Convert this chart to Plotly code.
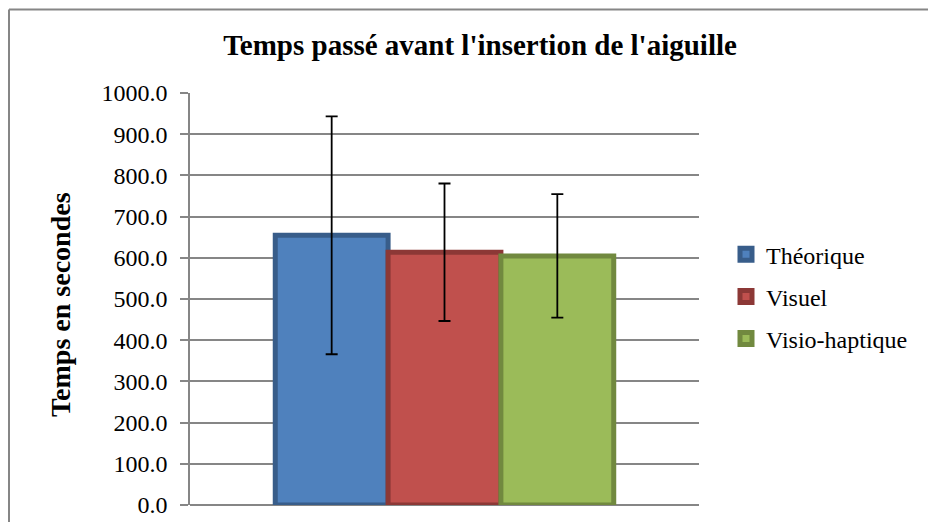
import plotly.graph_objects as go

categories = ["Théorique", "Visuel", "Visio-haptique"]
means = [654.7, 613.5, 604.6]
errors = [288.8, 166.9, 149.9]
fill_colors = ["#4F81BD", "#C0504D", "#9BBB59"]
line_colors = ["#385D8A", "#8C3836", "#71893F"]
y_ticks = [0, 100, 200, 300, 400, 500, 600, 700, 800, 900, 1000]

FONT = "Liberation Serif"
GRAY = "#868686"

# page body has an 8px margin: figure is placed at (8, 8) on screen
OFF = 8
W, H = 920, 514
PX0, PX1 = 190, 699      # plot area screen x
PY0, PY1 = 92.7, 505.3   # plot area screen y (top, bottom)


def px(x):
    return (x - PX0) / (PX1 - PX0)


def py(y):
    return (PY1 - y) / (PY1 - PY0)


fig = go.Figure()
for i, name in enumerate(categories):
    fig.add_trace(go.Bar(
        x=["Temps"], y=[means[i]], name=name, legendgroup=name,
        marker=dict(color=fill_colors[i], line=dict(color=line_colors[i], width=5)),
        error_y=dict(type="data", array=[errors[i]], visible=True,
                     color="black", thickness=1.8, width=6),
    ))

fig.update_layout(
    width=W, height=H,
    margin=dict(l=PX0 - OFF, r=W - (PX1 - OFF), t=PY0 - OFF, b=H - (PY1 - OFF),
                autoexpand=False),
    paper_bgcolor="white", plot_bgcolor="white",
    barmode="group", bargap=0.335, bargroupgap=0,
    font=dict(family=FONT, size=24, color="black"),
    title=dict(text="<b>Temps passé avant l'insertion de l'aiguille</b>",
               x=(480 - OFF) / W, xref="container", xanchor="center",
               y=1 - (45 - OFF) / H, yref="container", yanchor="middle",
               font=dict(family=FONT, size=29, color="black")),
    showlegend=True,
    legend=dict(x=px(726), y=py(232), xanchor="left", yanchor="top",
                font=dict(family=FONT, size=24, color="black"),
                tracegroupgap=8, itemwidth=30, bgcolor="rgba(0,0,0,0)"),
    xaxis=dict(showticklabels=False, ticks="", showgrid=False,
               showline=False, zeroline=False),
    yaxis=dict(range=[0, 1000], tickvals=y_ticks, tickformat=".1f",
               showgrid=True, gridcolor=GRAY, gridwidth=1.5,
               zeroline=True, zerolinecolor=GRAY, zerolinewidth=1.5,
               showline=True, linecolor=GRAY, linewidth=1.5,
               ticks="outside", ticklen=8, tickcolor=GRAY, tickwidth=1.5,
               ticklabelstandoff=8,
               tickfont=dict(family=FONT, size=24, color="black")),
    annotations=[dict(text="<b>Temps en secondes</b>", textangle=-90,
                      xref="paper", yref="paper",
                      x=px(61), y=py(305),
                      xanchor="center", yanchor="middle", showarrow=False,
                      font=dict(family=FONT, size=28, color="black"))],
    shapes=[
        dict(type="line", xref="paper", yref="paper",
             x0=px(9), x1=px(9), y0=py(9), y1=py(540),
             line=dict(color=GRAY, width=2)),
        dict(type="line", xref="paper", yref="paper",
             x0=px(9), x1=px(945), y0=py(9), y1=py(9),
             line=dict(color=GRAY, width=2)),
    ],
)

fig.write_html("out.html")
